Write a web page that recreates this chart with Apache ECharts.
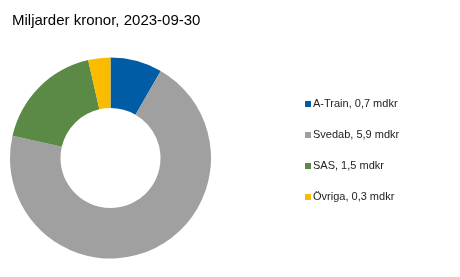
<!DOCTYPE html>
<html>
<head>
<meta charset="utf-8">
<script src="https://cdn.jsdelivr.net/npm/echarts@6/dist/echarts.min.js"></script>
<style>
  html, body { margin: 0; padding: 0; background: #fff; }
  #chart { width: 460px; height: 277px; }
</style>
</head>
<body>
<div id="chart"></div>
<script>
const names = ['A-Train', 'Svedab', 'SAS', 'Övriga'];
const values = [0.7, 5.9, 1.5, 0.3];
const colors = ['#005da5', '#a0a0a0', '#5a8a45', '#fbbb00'];

const numFmt = new Intl.NumberFormat('sv-SE', { minimumFractionDigits: 1, maximumFractionDigits: 1 });

const labelByName = {};
names.forEach((n, i) => { labelByName[n] = `${n}, ${numFmt.format(values[i])} mdkr`; });

const chart = echarts.init(document.getElementById('chart'));
chart.setOption({
  animation: false,
  title: {
    text: 'Miljarder kronor, 2023-09-30',
    left: 7,
    top: 8,
    textStyle: {
      fontFamily: 'Liberation Sans, Arial, sans-serif',
      fontWeight: 'normal',
      fontSize: 15,
      color: '#000'
    }
  },
  legend: {
    orient: 'vertical',
    left: 305,
    top: 97,
    padding: 0,
    icon: 'rect',
    itemWidth: 6,
    itemHeight: 6,
    itemGap: 17,
    data: names,
    formatter: (name) => labelByName[name],
    textStyle: {
      fontFamily: 'Liberation Sans, Arial, sans-serif',
      fontSize: 11,
      lineHeight: 14,
      color: '#222',
      padding: [0, 0, 0, -3]
    }
  },
  series: [{
    type: 'pie',
    center: [110.5, 158],
    radius: [50, 100.5],
    startAngle: 90,
    clockwise: true,
    label: { show: false },
    labelLine: { show: false },
    emphasis: { disabled: true },
    data: names.map((n, i) => ({ name: n, value: values[i], itemStyle: { color: colors[i] } }))
  }]
});
</script>
</body>
</html>
